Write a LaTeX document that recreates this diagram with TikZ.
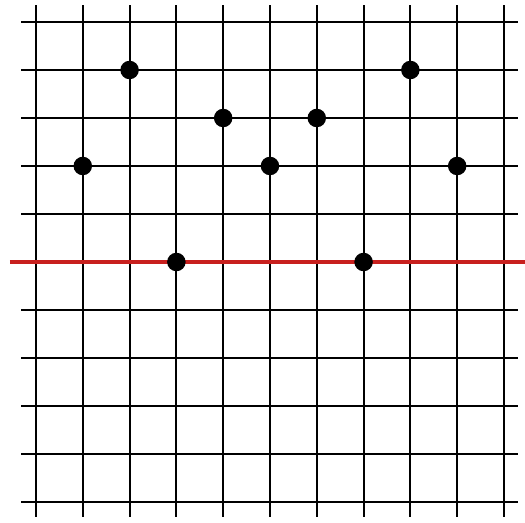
\documentclass[tikz,border=0pt]{standalone}
\usepackage{xcolor}
\usepackage{tikz}
\definecolor{gridred}{HTML}{C8201E}
\tikzset{dot/.style={circle, fill=black, inner sep=0pt, minimum size=0.37cm}}

\begin{document}
\begin{tikzpicture}[x=0.936cm, y=-0.96cm]
\useasboundingbox (-0.769,-0.458) rectangle (10.449,10.417);
\foreach \x in {0,1,...,10} {\draw[line width=1.1pt] (\x,-0.35) -- (\x,10.31);}
\foreach \y in {0,1,...,10} {\draw[line width=1.1pt] (-0.32,\y) -- (10.3,\y);}
\draw[gridred, line width=2.4pt] (-0.56,5) -- (10.45,5);
\node[dot] (a) at (2,1) {};
\node[dot] (b) at (8,1) {};
\node[dot] (c) at (4,2) {};
\node[dot] (d) at (6,2) {};
\node[dot] (e) at (1,3) {};
\node[dot] (f) at (5,3) {};
\node[dot] (g) at (9,3) {};
\node[dot] (h) at (3,5) {};
\node[dot] (i) at (7,5) {};
\end{tikzpicture}
\end{document}
